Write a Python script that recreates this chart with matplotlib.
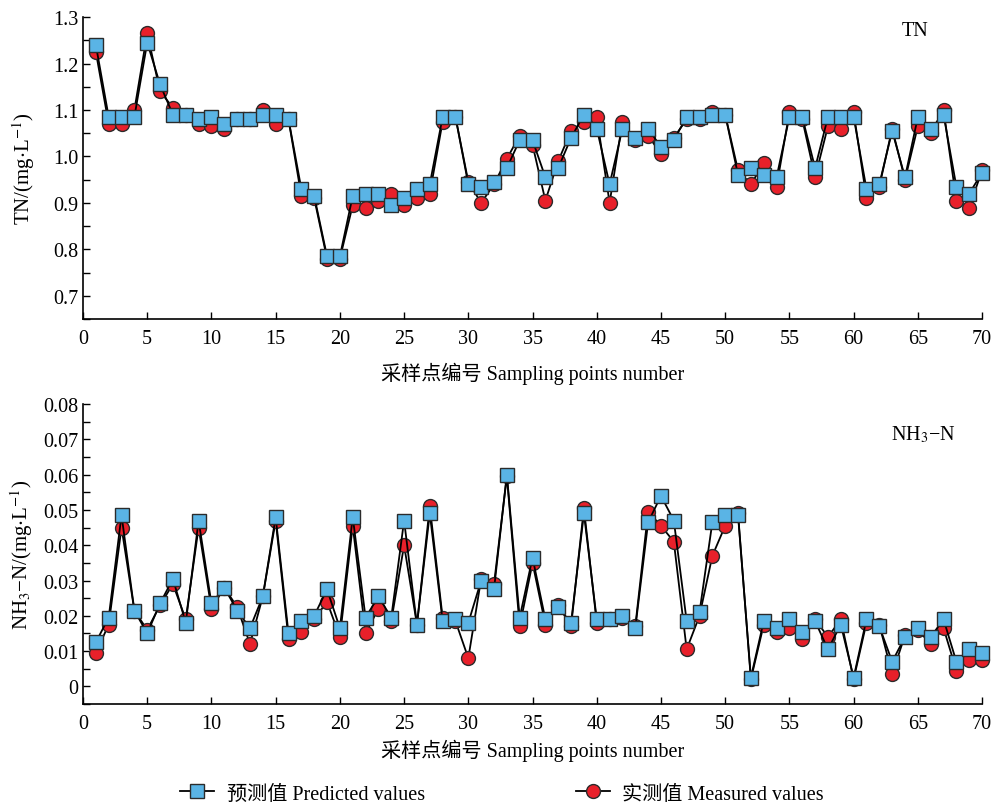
import numpy as np
import matplotlib
matplotlib.use("Agg")
import matplotlib.pyplot as plt
from matplotlib.ticker import MultipleLocator

plt.rcParams['font.family'] = ['Liberation Serif', 'Noto Sans CJK SC', 'DejaVu Serif']
plt.rcParams['mathtext.fontset'] = 'stix'

# sampling point numbers
points = np.arange(1, 71)

# TN (mg/L)
tn_pred = [1.24, 1.085, 1.085, 1.085, 1.245, 1.155, 1.09, 1.09, 1.08, 1.085,
           1.07, 1.08, 1.08, 1.09, 1.09, 1.08, 0.93, 0.915, 0.785, 0.785,
           0.915, 0.92, 0.92, 0.895, 0.91, 0.93, 0.94, 1.085, 1.085, 0.94,
           0.935, 0.945, 0.975, 1.035, 1.035, 0.955, 0.975, 1.04, 1.09, 1.06,
           0.94, 1.06, 1.04, 1.06, 1.02, 1.035, 1.085, 1.085, 1.09, 1.09,
           0.96, 0.975, 0.96, 0.955, 1.085, 1.085, 0.975, 1.085, 1.085, 1.085,
           0.93, 0.94, 1.055, 0.955, 1.085, 1.06, 1.09, 0.935, 0.92, 0.965]
tn_meas = [1.225, 1.07, 1.07, 1.10, 1.265, 1.14, 1.105, 1.09, 1.07, 1.065,
           1.06, 1.08, 1.08, 1.10, 1.07, 1.08, 0.915, 0.91, 0.78, 0.78,
           0.895, 0.89, 0.905, 0.92, 0.895, 0.91, 0.92, 1.075, 1.085, 0.945,
           0.90, 0.94, 0.995, 1.045, 1.025, 0.905, 0.99, 1.055, 1.075, 1.085,
           0.90, 1.075, 1.035, 1.045, 1.005, 1.04, 1.08, 1.08, 1.095, 1.09,
           0.97, 0.94, 0.985, 0.935, 1.095, 1.08, 0.955, 1.065, 1.06, 1.095,
           0.91, 0.935, 1.06, 0.95, 1.065, 1.05, 1.10, 0.905, 0.89, 0.97]

# NH3-N (mg/L)
nh_pred = [0.0125, 0.0195, 0.0485, 0.0215, 0.015, 0.0235, 0.0305, 0.018, 0.047, 0.0235,
           0.028, 0.0215, 0.0165, 0.0255, 0.048, 0.015, 0.0185, 0.020, 0.0275, 0.0165,
           0.048, 0.0195, 0.0255, 0.0195, 0.047, 0.0175, 0.049, 0.0185, 0.019, 0.018,
           0.030, 0.0275, 0.060, 0.0195, 0.0365, 0.019, 0.0225, 0.018, 0.049, 0.019,
           0.019, 0.020, 0.0165, 0.0465, 0.054, 0.047, 0.0185, 0.021, 0.0465, 0.0485,
           0.0485, 0.0025, 0.0185, 0.0165, 0.019, 0.0155, 0.0185, 0.0105, 0.0175, 0.0025,
           0.019, 0.017, 0.007, 0.014, 0.0165, 0.014, 0.019, 0.007, 0.0105, 0.0095]
nh_meas = [0.0095, 0.0175, 0.045, 0.0215, 0.016, 0.023, 0.029, 0.019, 0.045, 0.022,
           0.028, 0.0225, 0.012, 0.0255, 0.047, 0.0135, 0.0155, 0.019, 0.024, 0.014,
           0.0455, 0.015, 0.022, 0.0185, 0.040, 0.0175, 0.051, 0.0195, 0.0185, 0.008,
           0.0305, 0.029, 0.0595, 0.017, 0.035, 0.0175, 0.023, 0.017, 0.0505, 0.018,
           0.019, 0.0195, 0.017, 0.0495, 0.0455, 0.041, 0.0105, 0.020, 0.037, 0.0455,
           0.049, 0.002, 0.0175, 0.0155, 0.0165, 0.0135, 0.019, 0.014, 0.019, 0.002,
           0.018, 0.0175, 0.0035, 0.0145, 0.016, 0.012, 0.0165, 0.0045, 0.0075, 0.0075]

blue = '#5ab4e5'
red = '#e8202a'
edge = '#2b2b2b'
fs = 14.5

fig = plt.figure(figsize=(9.94, 8.03), dpi=100)
ax1 = fig.add_axes([0.0835, 0.6015, 0.9045, 0.376])
ax2 = fig.add_axes([0.0835, 0.122, 0.9045, 0.3736])

def draw(ax, pred, meas, pad):
    lm, = ax.plot(points, meas, color='black', lw=1.3, marker='o', ms=10,
                  mfc=red, mec=edge, mew=1.0, label='实测值Measured values',
                  zorder=2, clip_on=False)
    lp, = ax.plot(points, pred, color='black', lw=1.3, marker='s', ms=9.5,
                  mfc=blue, mec=edge, mew=1.0, label='预测值Predicted values',
                  zorder=3, clip_on=False)
    ax.set_xlim(0, 70)
    ax.xaxis.set_major_locator(MultipleLocator(5))
    ax.spines['top'].set_visible(False)
    ax.spines['right'].set_visible(False)
    ax.spines['left'].set_linewidth(1.2)
    ax.spines['bottom'].set_linewidth(1.2)
    ax.tick_params(which='both', direction='in', length=5, width=1.0, labelsize=fs)
    ax.tick_params(axis='x', pad=7)
    ax.set_xlabel('采样点编号 Sampling points number', fontsize=fs, labelpad=pad)
    return lp, lm

draw(ax1, tn_pred, tn_meas, 10)
ax1.set_ylim(0.65, 1.3)
ax1.yaxis.set_minor_locator(MultipleLocator(0.05))
ax1.set_yticks([0.7, 0.8, 0.9, 1.0, 1.1, 1.2, 1.3])
ax1.set_yticklabels(['0.7', '0.8', '0.9', '1.0', '1.1', '1.2', '1.3'])
ax1.set_ylabel(r'TN/(mg$\cdot$L$^{-1}$)', fontsize=fs + 0.5, labelpad=11)
ax1.text(0.925, 0.955, 'TN', transform=ax1.transAxes, fontsize=fs, ha='center', va='center')

lp, lm = draw(ax2, nh_pred, nh_meas, 4)
ax2.set_ylim(-0.005, 0.08)
ax2.set_yticks([0, 0.01, 0.02, 0.03, 0.04, 0.05, 0.06, 0.07, 0.08])
ax2.set_yticklabels(['0', '0.01', '0.02', '0.03', '0.04', '0.05', '0.06', '0.07', '0.08'])
ax2.yaxis.set_minor_locator(MultipleLocator(0.005))
ax2.set_ylabel(r'NH$_3$−N/(mg$\cdot$L$^{-1}$)', fontsize=fs + 0.5, labelpad=6)
ax2.text(0.935, 0.9, r'NH$_3$−N', transform=ax2.transAxes, fontsize=fs, ha='center', va='center')

fig.legend([lp, lm], ['预测值 Predicted values', '实测值 Measured values'],
           loc='center', bbox_to_anchor=(0.505, 0.01), ncol=2, frameon=False,
           fontsize=fs, handlelength=1.7, columnspacing=7.5, handletextpad=0.6)

fig.savefig('out.png', dpi=100)
